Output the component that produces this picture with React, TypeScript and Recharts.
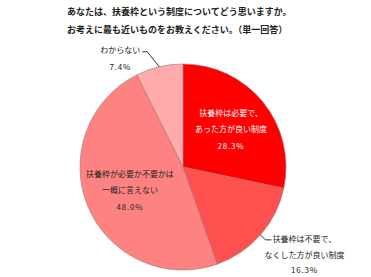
import { PieChart, Pie, Cell } from 'recharts'

const categories = [
  ['扶養枠は必要で、', 'あった方が良い制度'],
  ['扶養枠は不要で、', 'なくした方が良い制度'],
  ['扶養枠が必要か不要かは', '一概に言えない'],
  ['わからない'],
]
const shares = [28.3, 16.3, 48.0, 7.4]
const colors = ['#FF0000', '#FF5050', '#FF8282', '#FFABAB']

const data = categories.map((lines, i) => ({ name: lines.join(''), lines, value: shares[i] }))

const FONT = '"Noto Sans CJK JP", "Noto Sans", sans-serif'
const RAD = Math.PI / 180

function renderLabel(props: any) {
  const { cx, cy, midAngle, outerRadius, index, payload } = props
  const lines: string[] = payload.lines
  const pct = `${payload.value.toFixed(1)}%`
  const cos = Math.cos(-midAngle * RAD)
  const sin = Math.sin(-midAngle * RAD)
  const ex = cx + outerRadius * cos
  const ey = cy + outerRadius * sin
  const txt = { fontSize: 8, fontFamily: FONT }

  if (index === 0 || index === 2) {
    // inside the slice
    const r = outerRadius * (index === 0 ? 0.6 : 0.56)
    const x = cx + r * cos
    const y = cy + r * sin
    const fill = index === 0 ? '#fff' : '#222'
    return (
      <g>
        <text x={x} y={y - 16} textAnchor="middle" dominantBaseline="central" fill={fill} style={txt}>{lines[0]}</text>
        <text x={x} y={y} textAnchor="middle" dominantBaseline="central" fill={fill} style={txt}>{lines[1]}</text>
        <text x={x} y={y + 17} textAnchor="middle" dominantBaseline="central" fill={fill} style={{ ...txt, letterSpacing: 0.8 }}>{pct}</text>
      </g>
    )
  }
  if (index === 1) {
    const x = ex + 44
    return (
      <g>
        <polyline points={`${ex},${ey} ${ex + 5},${ey + 5} ${ex + 11},${ey + 5}`} fill="none" stroke="#000" strokeWidth={0.8} />
        <text x={x} y={ey + 4} textAnchor="middle" dominantBaseline="central" fill="#222" style={txt}>{lines[0]}</text>
        <text x={x} y={ey + 20} textAnchor="middle" dominantBaseline="central" fill="#222" style={txt}>{lines[1]}</text>
        <text x={x} y={ey + 35} textAnchor="middle" dominantBaseline="central" fill="#222" style={{ ...txt, letterSpacing: 0.8 }}>{pct}</text>
      </g>
    )
  }
  return (
    <g>
      <polyline points={`${ex},${ey} ${ex - 12},${ey - 15} ${ex - 17},${ey - 15}`} fill="none" stroke="#000" strokeWidth={0.8} />
      <text x={ex - 19} y={ey - 17} textAnchor="end" dominantBaseline="central" fill="#222" style={txt}>{lines[0]}</text>
      <text x={ex - 39} y={ey} textAnchor="middle" dominantBaseline="central" fill="#222" style={{ ...txt, letterSpacing: 0.8 }}>{pct}</text>
    </g>
  )
}

export default function App() {
  return (
    <div style={{ position: 'absolute', left: 0, top: 0, width: 371, height: 277, background: '#fff' }}>
      <div style={{ position: 'absolute', left: 67, top: 3, fontFamily: FONT, fontSize: 9, fontWeight: 'bold', color: '#222', lineHeight: '18px', whiteSpace: 'nowrap' }}>
        <div>あなたは、扶養枠という制度についてどう思いますか。</div>
        <div>お考えに最も近いものをお教えください。（単一回答）</div>
      </div>
      <PieChart width={371} height={277} style={{ position: 'absolute', left: 0, top: 0 }}>
        <Pie
          data={data}
          dataKey="value"
          cx={178}
          cy={162}
          outerRadius={103}
          startAngle={90}
          endAngle={-270}
          stroke="#9a7070"
          strokeWidth={0.6}
          label={renderLabel}
          labelLine={false}
          isAnimationActive={false}
        >
          {data.map((d, i) => (
            <Cell key={d.name} fill={colors[i]} />
          ))}
        </Pie>
      </PieChart>
    </div>
  )
}
